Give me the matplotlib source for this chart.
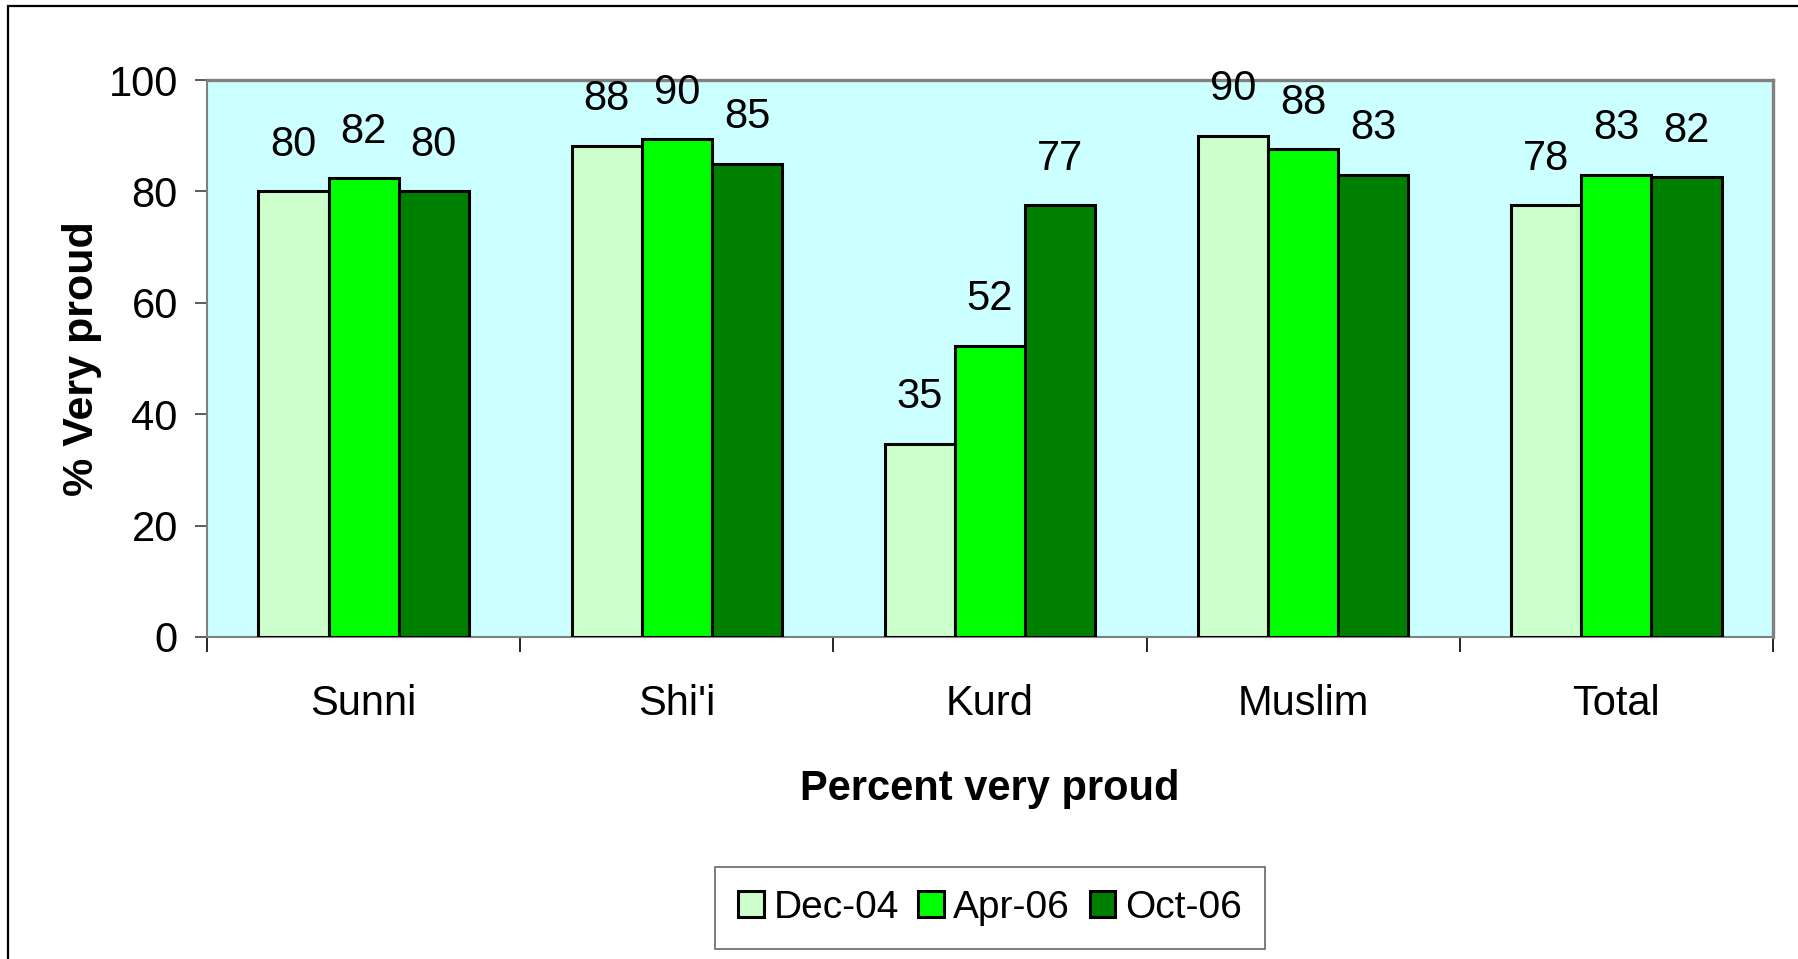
import matplotlib
matplotlib.use("Agg")
import matplotlib.pyplot as plt
from matplotlib import font_manager
from matplotlib.patches import Rectangle
import numpy as np

categories = ["Sunni", "Shi'i", "Kurd", "Muslim", "Total"]
series_names = ["Dec-04", "Apr-06", "Oct-06"]
dec04 = [80.0, 88.2, 34.7, 90.0, 77.5]
apr06 = [82.4, 89.4, 52.3, 87.6, 83.0]
oct06 = [80.0, 85.0, 77.5, 83.0, 82.5]
dec04_labels = ["80", "88", "35", "90", "78"]
apr06_labels = ["82", "90", "52", "88", "83"]
oct06_labels = ["80", "85", "77", "83", "82"]
y_ticks = [0, 20, 40, 60, 80, 100]
colors = ["#CCFFCC", "#00FF00", "#008000"]

names = {f.name for f in font_manager.fontManager.ttflist}
fam = "Liberation Sans Narrow" if "Liberation Sans Narrow" in names else "Liberation Sans"
plt.rcParams["font.family"] = [fam, "DejaVu Sans"]
bold_fam = ["Liberation Sans", "DejaVu Sans"]

W, H = 1798, 959
fig = plt.figure(figsize=(W / 100, H / 100), dpi=100)
ax = fig.add_axes([207 / W, 1 - 637 / H, (1773 - 207) / W, (637 - 80) / H])
ax.set_facecolor("#CCFFFF")

x = np.arange(len(categories))
bw = 0.224
series = [dec04, apr06, oct06]
labels = [dec04_labels, apr06_labels, oct06_labels]
for i, (vals, labs, col, nm) in enumerate(zip(series, labels, colors, series_names)):
    bars = ax.bar(x + (i - 1) * bw, vals, width=bw, color=col, edgecolor="black",
                  linewidth=2.2, label=nm, zorder=3)
    for b, lab in zip(bars, labs):
        ax.annotate(lab, (b.get_x() + b.get_width() / 2, b.get_height()),
                    xytext=(0, 19), textcoords="offset points", ha="center",
                    va="bottom", fontsize=30)

ax.set_xlim(-0.5, len(categories) - 0.5)
ax.set_ylim(0, 100)
ax.set_yticks(y_ticks)
ax.set_yticklabels([str(t) for t in y_ticks], fontsize=30)
ax.tick_params(axis="y", length=9, width=1.2, color="#404040", pad=12)
ax.set_xticks(x)
ax.set_xticklabels(categories, fontsize=30)
ax.set_xticks(np.arange(len(categories) + 1) - 0.5, minor=True)
ax.tick_params(axis="x", which="major", length=0, pad=34)
ax.tick_params(axis="x", which="minor", length=11, width=1.2, color="black")

for side in ["top", "right"]:
    ax.spines[side].set_color("#808080")
    ax.spines[side].set_linewidth(2.4)
for side in ["left", "bottom"]:
    ax.spines[side].set_color("#808080")
    ax.spines[side].set_linewidth(1.5)

ax.set_ylabel("% Very proud", fontsize=31, fontweight="bold", family=bold_fam, labelpad=5)
ax.set_xlabel("Percent very proud", fontsize=30, fontweight="bold", family=bold_fam, labelpad=32)

leg = fig.legend(loc="center", bbox_to_anchor=(990 / W, 1 - 908 / H), ncol=3,
                 fontsize=28, frameon=True, fancybox=False, edgecolor="#404040",
                 handlelength=0.65, handleheight=0.65, handletextpad=0.25,
                 columnspacing=0.5, borderpad=0.6, borderaxespad=0)
leg.get_frame().set_linewidth(1.2)

fig.patches.append(Rectangle((8 / W, -0.1), 1.2, 1 - 6 / H + 0.1, transform=fig.transFigure,
                             fill=False, edgecolor="black", linewidth=1.6, zorder=0))

fig.savefig("out.png", dpi=100)
